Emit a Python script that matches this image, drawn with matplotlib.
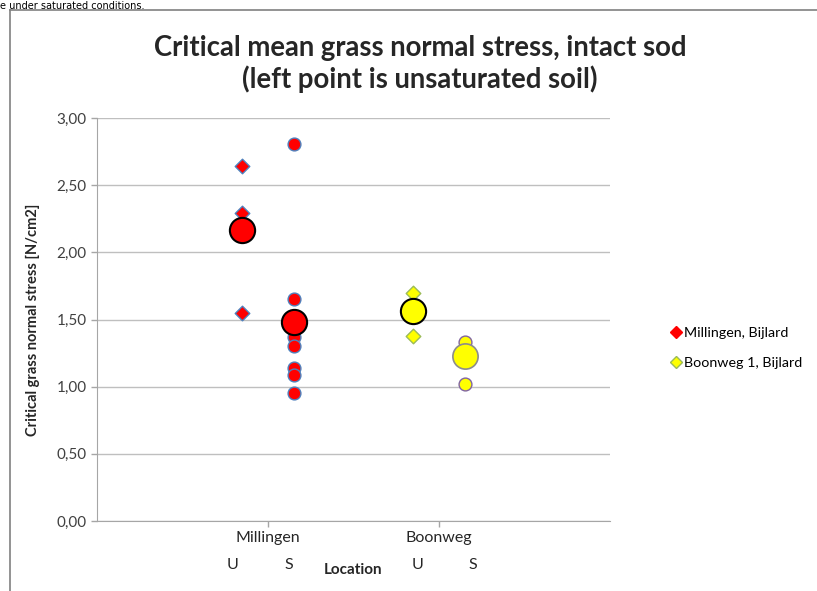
import matplotlib
matplotlib.use('Agg')
import matplotlib.pyplot as plt
from matplotlib.lines import Line2D
from matplotlib.ticker import FuncFormatter

plt.rcParams['font.family'] = ['Lato', 'DejaVu Sans']

# data
locations = ['Millingen', 'Boonweg']
mill_u = [2.64, 2.29, 1.55]
mill_s = [2.81, 1.65, 1.37, 1.30, 1.14, 1.09, 0.95]
mill_mean = [2.17, 1.48]
boon_u = [1.70, 1.38]
boon_s = [1.33, 1.02]
boon_mean = [1.56, 1.23]
series_names = ['Millingen, Bijlard', 'Boonweg 1, Bijlard']

fig = plt.figure(figsize=(8.17, 5.91), dpi=100)
ax = fig.add_axes([0.1187, 0.1184, 0.6279, 0.6819])

off = 0.15
# small points
ax.scatter([1 - off] * len(mill_u), mill_u, s=55, marker='D', c='#FF0000',
           edgecolors='#4F81BD', linewidths=1.0, zorder=3)
ax.scatter([1 + off] * len(mill_s), mill_s, s=85, marker='o', c='#FF0000',
           edgecolors='#4F81BD', linewidths=1.0, zorder=3)
ax.scatter([2 - off] * len(boon_u), boon_u, s=55, marker='D', c='#FFFF00',
           edgecolors='#9BBB59', linewidths=1.0, zorder=3)
ax.scatter([2 + off] * len(boon_s), boon_s, s=85, marker='o', c='#FFFF00',
           edgecolors='#8064A2', linewidths=1.0, zorder=3)
# means
ax.scatter([1 - off, 1 + off], mill_mean, s=330, marker='o', c='#FF0000',
           edgecolors='black', linewidths=1.5, zorder=4)
ax.scatter([2 - off], boon_mean[:1], s=330, marker='o', c='#FFFF00',
           edgecolors='black', linewidths=1.5, zorder=4)
ax.scatter([2 + off], boon_mean[1:], s=330, marker='o', c='#FFFF00',
           edgecolors='#8C8C8C', linewidths=1.2, zorder=4)

ax.set_xlim(0, 3)
ax.set_ylim(0, 3)
ax.set_yticks([0, 0.5, 1, 1.5, 2, 2.5, 3])
ax.yaxis.set_major_formatter(FuncFormatter(lambda v, p: ('%.2f' % v).replace('.', ',')))
ax.set_xticks([1, 2])
ax.set_xticklabels(locations)
ax.grid(axis='y', color='#BFBFBF', linewidth=1)
ax.set_axisbelow(True)
for sp in ['top', 'right']:
    ax.spines[sp].set_visible(False)
for sp in ['left', 'bottom']:
    ax.spines[sp].set_color('#A6A6A6')
ax.tick_params(axis='both', colors='#A6A6A6', labelcolor='#404040', labelsize=11,
               length=4, width=1)
ax.tick_params(axis='x', pad=3, labelsize=11.5, labelcolor='#262626')

# U / S labels under the locations
tr = ax.get_xaxis_transform()
for xx, t in zip([0.79, 1.12, 1.877, 2.2], ['U', 'S', 'U', 'S']):
    ax.text(xx, -0.11, t, transform=tr, ha='center', va='center',
            fontsize=11.5, color='#262626')

ax.set_xlabel('Location', fontsize=11, fontweight='bold', labelpad=13, color='#262626')
ax.set_ylabel('Critical grass normal stress [N/cm2]', fontsize=10.5,
              fontweight='bold', labelpad=12, color='#262626')

fig.text(0.514, 0.892, 'Critical mean grass normal stress, intact sod\n'
         '(left point is unsaturated soil)', ha='center', va='center',
         fontsize=19.8, fontweight='bold', color='#262626', linespacing=1.2)

handles = [Line2D([], [], marker='D', linestyle='none', markersize=6,
                  markerfacecolor='#FF0000', markeredgecolor='#FF0000'),
           Line2D([], [], marker='D', linestyle='none', markersize=6,
                  markerfacecolor='#FFFF00', markeredgecolor='#9BBB59')]
fig.legend(handles, series_names, loc='center left', bbox_to_anchor=(0.812, 0.411),
           frameon=False, fontsize=10.3, handlelength=0.6, handletextpad=0.25,
           labelspacing=1.25, borderaxespad=0.2)

# chart frame and document text above it
fig.add_artist(Line2D([0.0122, 0.0122], [0, 0.983], transform=fig.transFigure,
                      color='#808080', linewidth=1.2))
fig.add_artist(Line2D([0.0122, 1], [0.983, 0.983], transform=fig.transFigure,
                      color='#808080', linewidth=1.2))
fig.text(0.0, 0.999, 'e under saturated conditions.', ha='left', va='top',
         fontsize=7, color='black', family=['DejaVu Sans'])

fig.savefig('out.png', dpi=100)
